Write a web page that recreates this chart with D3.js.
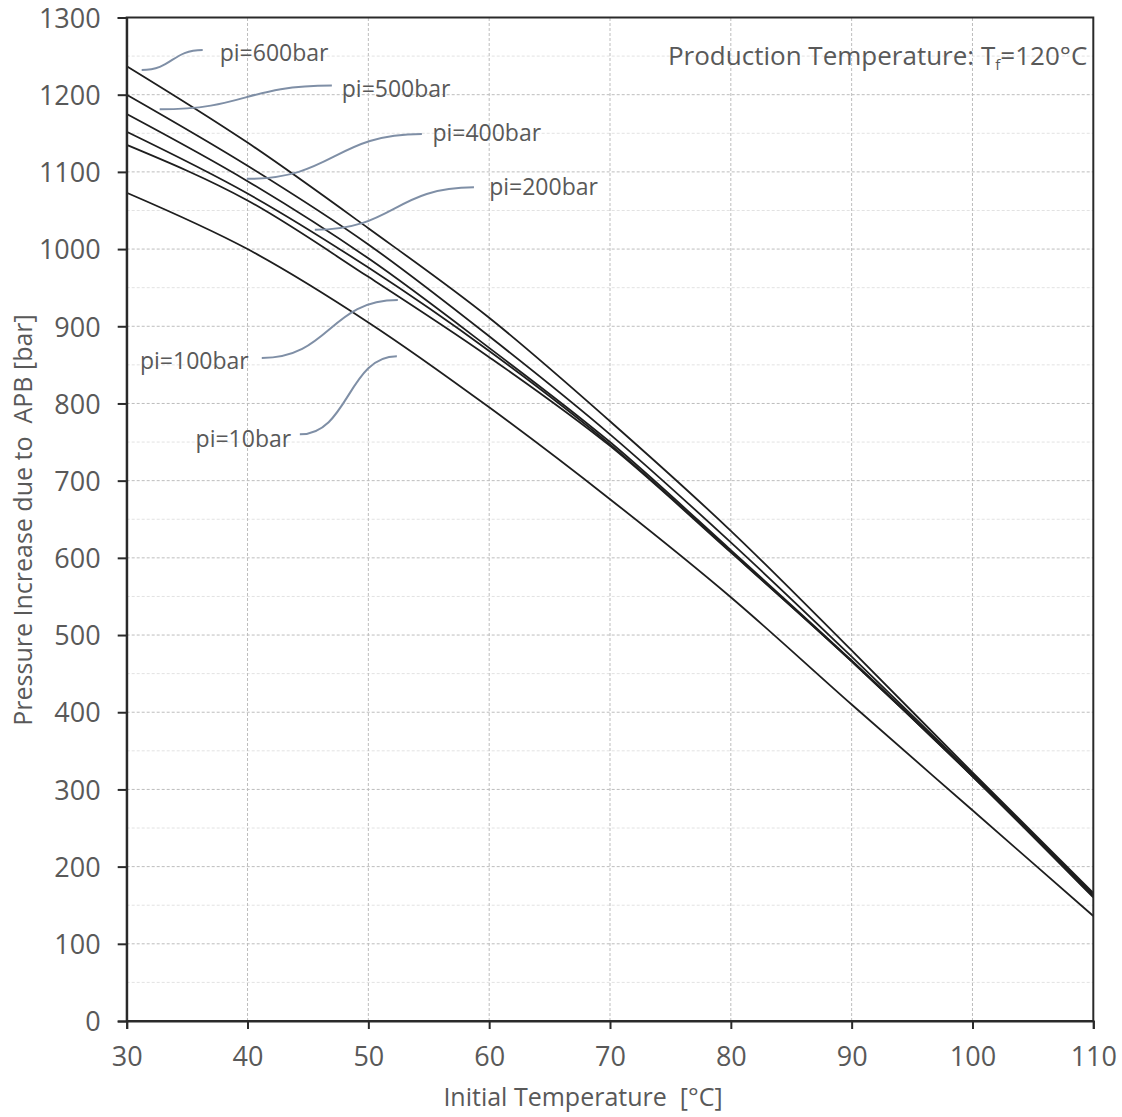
<!DOCTYPE html>
<html>
<head>
<meta charset="utf-8">
<script src="https://cdn.jsdelivr.net/npm/d3@7"></script>
<style>
  html, body { margin: 0; padding: 0; background: #fff; }
  svg { display: block; }
  text { font-family: "Open Sans", "Noto Sans", sans-serif; fill: #595959; white-space: pre; }
</style>
</head>
<body>
<svg id="chart" width="1122" height="1117"></svg>
<script>
// ---------------- data ----------------
const temps = [30, 40, 50, 60, 70, 80, 90, 100, 110];
const seriesNames = ["pi=600bar", "pi=500bar", "pi=400bar", "pi=200bar", "pi=100bar", "pi=10bar"];
const pi600 = [1237, 1138, 1027, 911, 777, 635, 480, 322, 166];
const pi500 = [1200, 1108, 1006, 887, 760, 620, 472, 320, 164];
const pi400 = [1175, 1088, 988, 872, 750, 610, 467, 318, 162];
const pi200 = [1152, 1072, 976, 868, 747, 608, 466, 317, 161];
const pi100 = [1135, 1063, 964, 860, 745, 607, 466, 317, 160];
const pi10  = [1073, 1000, 905, 795, 676, 549, 410, 273, 136];
const seriesValues = [pi600, pi500, pi400, pi200, pi100, pi10];

const xTicks = [30, 40, 50, 60, 70, 80, 90, 100, 110];
const yTicks = [0, 100, 200, 300, 400, 500, 600, 700, 800, 900, 1000, 1100, 1200, 1300];
const yMinorTicks = [50, 150, 250, 350, 450, 550, 650, 750, 850, 950, 1050, 1150, 1250];

// label anchors (data units): text start + connector start (near curve) / end (near text)
const labelT   = [37.7, 47.8, 55.3, 60.0, 31.1, 35.7];
const labelP   = [1254, 1208, 1150, 1080, 855, 754];
const connT0   = [31.24, 32.73, 39.94, 45.57, 52.44, 52.36];
const connP0   = [1232, 1181, 1091, 1025, 934, 861];
const connT1   = [36.29, 46.98, 54.43, 58.74, 41.18, 44.33];
const connP1   = [1258, 1212, 1149, 1080, 859, 760];

const xTitle = "Initial Temperature  [°C]";
const yTitle = "Pressure Increase due to  APB [bar]";

// ---------------- layout ----------------
const svg = d3.select("#chart");
const x = d3.scaleLinear().domain([30, 110]).range([126.7, 1093.3]);
const y = d3.scaleLinear().domain([0, 1300]).range([1021, 17.5]);

// minor gridlines
svg.append("g").selectAll("line").data(yMinorTicks).join("line")
  .attr("x1", x(30)).attr("x2", x(110))
  .attr("y1", d => y(d)).attr("y2", d => y(d))
  .attr("stroke", "#e2e2e2").attr("stroke-width", 1).attr("stroke-dasharray", "3,2");

// major gridlines
svg.append("g").selectAll("line").data(yTicks.slice(1, -1)).join("line")
  .attr("x1", x(30)).attr("x2", x(110))
  .attr("y1", d => y(d)).attr("y2", d => y(d))
  .attr("stroke", "#bdbdbd").attr("stroke-width", 1).attr("stroke-dasharray", "3,2");
svg.append("g").selectAll("line").data(xTicks.slice(1, -1)).join("line")
  .attr("y1", y(0)).attr("y2", y(1300))
  .attr("x1", d => x(d)).attr("x2", d => x(d))
  .attr("stroke", "#bdbdbd").attr("stroke-width", 1).attr("stroke-dasharray", "3,2");

// series lines
const line = d3.line().x((d, i) => x(temps[i])).y(d => y(d)).curve(d3.curveMonotoneX);
svg.append("g").selectAll("path").data(seriesValues).join("path")
  .attr("d", d => line(d))
  .attr("fill", "none").attr("stroke", "#1e1e1e").attr("stroke-width", 1.8);

// frame
svg.append("rect").attr("x", x(30)).attr("y", y(1300))
  .attr("width", x(110) - x(30)).attr("height", y(0) - y(1300))
  .attr("fill", "none").attr("stroke", "#2a2a2a").attr("stroke-width", 2);

// axes
const yAxis = d3.axisLeft(y).tickValues(yTicks).tickSize(9).tickPadding(17).tickFormat(d3.format("d"));
const gy = svg.append("g").attr("transform", `translate(${x(30)},0)`).call(yAxis);
const xAxis = d3.axisBottom(x).tickValues(xTicks).tickSize(8).tickPadding(18).tickFormat(d3.format("d"));
const gx = svg.append("g").attr("transform", `translate(0,${y(0)})`).call(xAxis);
[gy, gx].forEach(g => {
  g.select(".domain").attr("stroke", "#2a2a2a").attr("stroke-width", 2);
  g.selectAll(".tick line").attr("stroke", "#2a2a2a").attr("stroke-width", 2);
  g.selectAll(".tick text").attr("font-family", "Open Sans").attr("font-size", 27).attr("fill", "#595959");
});
gy.selectAll(".tick text").attr("dy", "0.36em");
gx.selectAll(".tick text").attr("dy", "0.71em");

// axis titles
svg.append("text").attr("x", 583).attr("y", 1106)
  .attr("text-anchor", "middle").attr("font-size", 25).attr("fill", "#262626").text(xTitle);
svg.append("text").attr("transform", `translate(32,${520}) rotate(-90)`)
  .attr("text-anchor", "middle").attr("font-size", 25).attr("fill", "#262626").text(yTitle);

// production temperature annotation
const ann = svg.append("text").attr("x", x(110) - 6).attr("y", 65)
  .attr("text-anchor", "end").attr("font-size", 26);
ann.append("tspan").text("Production Temperature: T");
ann.append("tspan").attr("font-size", 15).attr("dy", 5).text("f");
ann.append("tspan").attr("dy", -5).text("=120°C");

// connectors
const conn = seriesNames.map((s, i) => {
  const x0 = x(connT0[i]), y0 = y(connP0[i]), x1 = x(connT1[i]), y1 = y(connP1[i]);
  const xm = (x0 + x1) / 2;
  return `M${x0},${y0} C${xm},${y0} ${xm},${y1} ${x1},${y1}`;
});
svg.append("g").selectAll("path").data(conn).join("path")
  .attr("d", d => d).attr("fill", "none").attr("stroke", "#7f8fa6").attr("stroke-width", 2);

// series labels
svg.append("g").selectAll("text").data(seriesNames).join("text")
  .attr("x", (d, i) => x(labelT[i])).attr("y", (d, i) => y(labelP[i]))
  .attr("dy", "0.35em").attr("font-size", 23).text(d => d);
</script>
</body>
</html>
